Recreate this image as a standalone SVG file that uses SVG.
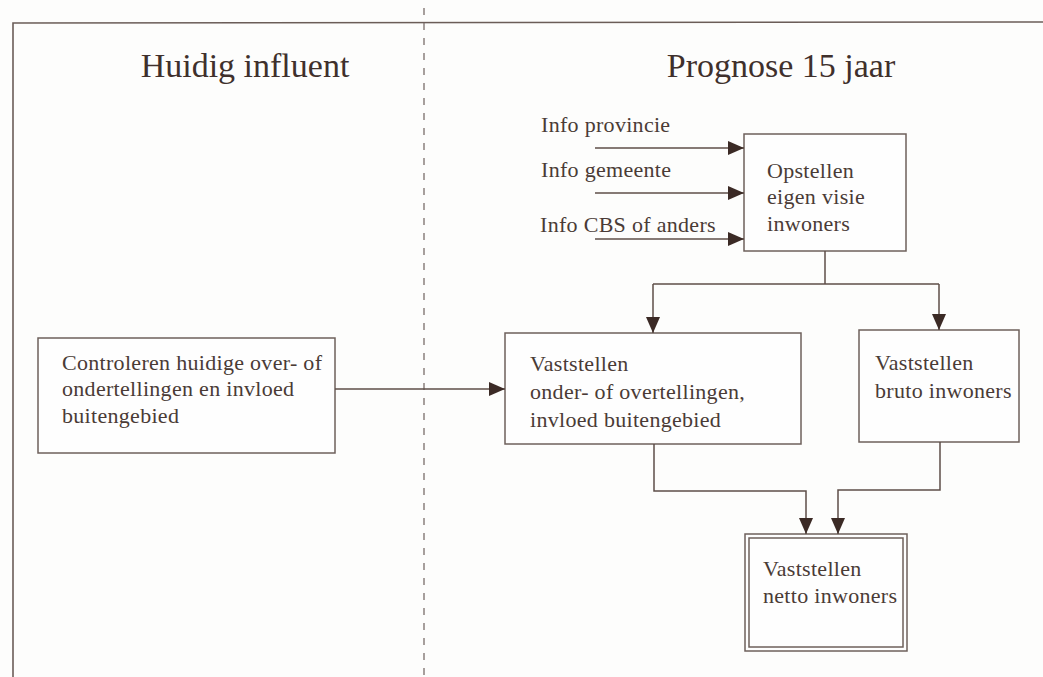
<svg xmlns="http://www.w3.org/2000/svg" width="1043" height="677" viewBox="0 0 1043 677">
<defs>
<style>
.bg{fill:#fdfdfc}
.frame{fill:none;stroke:#6b5d58;stroke-width:1.6}
.dash{fill:none;stroke:#7a6e6a;stroke-width:1.3;stroke-dasharray:7 8}
.box{fill:#fefefe;stroke:#6e605b;stroke-width:1.5}
.line{fill:none;stroke:#5e4e48;stroke-width:1.5}
.title{font-family:"Liberation Serif",serif;font-size:34px;fill:#3f302c}
.t{font-family:"Liberation Serif",serif;font-size:22px;fill:#4a3b36;letter-spacing:0.3px}
</style>
<marker id="arr" markerUnits="userSpaceOnUse" markerWidth="16" markerHeight="14" viewBox="0 0 16 14" refX="16" refY="7" orient="auto">
<path d="M0,0 L16,7 L0,14 Z" fill="#3b2a25"/>
</marker>
</defs>
<rect class="bg" x="0" y="0" width="1043" height="677"/>
<g id="frame">
<path class="frame" d="M13,677 L13,23 L1043,22"/>
<path class="dash" d="M424,8 L424,677"/>
</g>
<g id="titles">
<text class="title" x="245" y="77" text-anchor="middle">Huidig influent</text>
<text class="title" x="781" y="77" text-anchor="middle">Prognose 15 jaar</text>
</g>
<g id="info-labels">
<text class="t" x="541" y="132">Info provincie</text>
<text class="t" x="541" y="177">Info gemeente</text>
<text class="t" x="540" y="232">Info CBS of anders</text>
</g>
<g id="opstellen">
<rect class="box" x="744" y="134" width="162" height="117"/>
<text class="t" x="767" y="178">Opstellen</text>
<text class="t" x="767" y="204">eigen visie</text>
<text class="t" x="767" y="231">inwoners</text>
</g>
<g id="controleren">
<rect class="box" x="38" y="338" width="297" height="115"/>
<text class="t" x="62" y="370">Controleren huidige over- of</text>
<text class="t" x="62" y="396">ondertellingen en invloed</text>
<text class="t" x="62" y="423">buitengebied</text>
</g>
<g id="vaststellen-onder">
<rect class="box" x="505" y="333" width="296" height="111"/>
<text class="t" x="530" y="371">Vaststellen</text>
<text class="t" x="530" y="399">onder- of overtellingen,</text>
<text class="t" x="530" y="427">invloed buitengebied</text>
</g>
<g id="vaststellen-bruto">
<rect class="box" x="859" y="330" width="160" height="112"/>
<text class="t" x="875" y="370">Vaststellen</text>
<text class="t" x="875" y="398">bruto inwoners</text>
</g>
<g id="vaststellen-netto">
<rect class="box" x="745" y="534" width="162" height="117"/>
<rect class="box" x="749" y="538" width="154" height="109"/>
<text class="t" x="763" y="576">Vaststellen</text>
<text class="t" x="763" y="603">netto inwoners</text>
</g>
<g id="connectors">
<path class="line" d="M595,148 L744,148" marker-end="url(#arr)"/>
<path class="line" d="M595,193 L744,193" marker-end="url(#arr)"/>
<path class="line" d="M595,239 L744,239" marker-end="url(#arr)"/>
<path class="line" d="M825,251 L825,284"/>
<path class="line" d="M653,284 L939,284"/>
<path class="line" d="M653,284 L653,333" marker-end="url(#arr)"/>
<path class="line" d="M939,284 L939,330" marker-end="url(#arr)"/>
<path class="line" d="M335,389 L505,389" marker-end="url(#arr)"/>
<path class="line" d="M654,444 L654,491 L806,491 L806,534" marker-end="url(#arr)"/>
<path class="line" d="M940,442 L940,490 L838,490 L838,534" marker-end="url(#arr)"/>
</g>
</svg>
